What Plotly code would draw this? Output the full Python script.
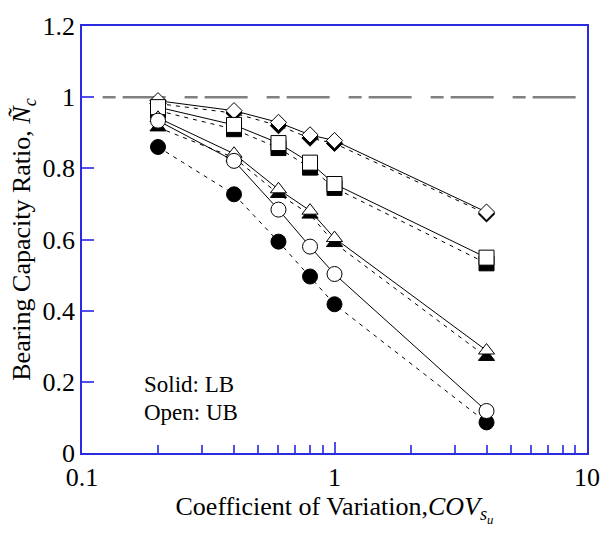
import plotly.graph_objects as go

# Coefficient of variation of undrained strength
cov = [0.2, 0.4, 0.6, 0.8, 1.0, 4.0]

# Correlation length labels
theta_labels = ["20", "8.0", "2.0", "0.2"]

# Upper bound (open symbols)
ub_20 = [0.99, 0.962, 0.929, 0.894, 0.878, 0.677]
ub_8 = [0.972, 0.922, 0.871, 0.816, 0.756, 0.549]
ub_2 = [0.942, 0.841, 0.741, 0.681, 0.604, 0.288]
ub_02 = [0.934, 0.821, 0.684, 0.580, 0.503, 0.118]

# Lower bound (solid symbols)
lb_20 = [0.982, 0.955, 0.920, 0.885, 0.870, 0.672]
lb_8 = [0.962, 0.910, 0.857, 0.802, 0.745, 0.533]
lb_2 = [0.915, 0.830, 0.728, 0.670, 0.590, 0.270]
lb_02 = [0.860, 0.727, 0.594, 0.496, 0.418, 0.086]

symbols = ["diamond", "square", "triangle-up", "circle"]
sizes = [12.5, 15, 14, 15]
ub_sets = [ub_20, ub_8, ub_2, ub_02]
lb_sets = [lb_20, lb_8, lb_2, lb_02]

SERIF = "Liberation Serif, Times New Roman, serif"
AXIS_BLUE = "#2a2ae0"
TICK_BLUE = "#5050e8"

fig = go.Figure()

# connecting lines first so that every symbol sits on top of them
for lb in lb_sets:
    fig.add_trace(go.Scatter(x=cov, y=lb, mode="lines",
                             line=dict(color="black", width=1, dash="4px,5px"),
                             showlegend=False, hoverinfo="skip"))
for ub in ub_sets:
    fig.add_trace(go.Scatter(x=cov, y=ub, mode="lines",
                             line=dict(color="black", width=1),
                             showlegend=False, hoverinfo="skip"))

# solid (LB) symbols, then open (UB) symbols
for lb, sym, sz in zip(lb_sets, symbols, sizes):
    fig.add_trace(go.Scatter(x=cov, y=lb, mode="markers",
                             marker=dict(symbol=sym, size=sz, color="black",
                                         line=dict(color="black", width=1)),
                             showlegend=False))
for ub, sym, sz in zip(ub_sets, symbols, sizes):
    fig.add_trace(go.Scatter(x=cov, y=ub, mode="markers",
                             marker=dict(symbol=sym, size=sz, color="white",
                                         line=dict(color="black", width=1)),
                             showlegend=False))

# reference line at a ratio of one
fig.add_shape(type="line", xref="x", yref="y", x0=0.1207, x1=10, y0=1, y1=1,
              line=dict(color="#808080", width=2.5, dash="13px,7px,43px,19px"),
              layer="below")

# curve labels next to the last point of each upper-bound curve
label_texts = [
    theta_labels[0] + "=Θ<sub> ln <i>s<sub>u</sub></i></sub>",
    theta_labels[1], theta_labels[2], theta_labels[3],
]
label_shift = [(9, -10), (16, -20), (16, -24), (16, -12)]
for ub, txt, (dx, dy) in zip(ub_sets, label_texts, label_shift):
    fig.add_annotation(x=cov[-1], y=ub[-1], xref="x", yref="y", text=txt,
                       showarrow=False, xanchor="left", yanchor="middle",
                       xshift=dx, yshift=dy,
                       font=dict(family=SERIF, size=24, color="black"))

fig.add_annotation(x=0.118, y=0.160, xref="paper", yref="paper",
                   text="Solid: LB", showarrow=False, xanchor="left",
                   yanchor="middle", font=dict(family=SERIF, size=23, color="black"))
fig.add_annotation(x=0.118, y=0.094, xref="paper", yref="paper",
                   text="Open: UB", showarrow=False, xanchor="left",
                   yanchor="middle", font=dict(family=SERIF, size=23, color="black"))

fig.update_xaxes(
    type="log", range=[-1, 1],
    tickvals=[0.1, 1, 10], ticktext=["0.1", "1", "10"],
    ticks="inside", ticklen=11, tickwidth=1.5, tickcolor=TICK_BLUE,
    minor=dict(ticks="inside", ticklen=8, tickwidth=1.5, tickcolor=TICK_BLUE,
               dtick="D1", showgrid=False),
    showline=True, linecolor=AXIS_BLUE, linewidth=1.5, mirror=True,
    showgrid=False, zeroline=False,
    tickfont=dict(family=SERIF, size=26, color="black"),
    title=dict(text="Coefficient of Variation,<i>COV</i><sub><i>s<sub>u</sub></i></sub>",
               font=dict(family=SERIF, size=26, color="black"), standoff=0),
)
fig.update_yaxes(
    range=[0, 1.2], tickvals=[0, 0.2, 0.4, 0.6, 0.8, 1.0, 1.2],
    ticktext=["0", "0.2", "0.4", "0.6", "0.8", "1", "1.2"],
    ticks="inside", ticklen=12, tickwidth=1.5, tickcolor=TICK_BLUE,
    showline=True, linecolor=AXIS_BLUE, linewidth=1.5, mirror=True,
    showgrid=False, zeroline=False,
    tickfont=dict(family=SERIF, size=26, color="black"),
    title=dict(text="Bearing Capacity Ratio, <i>Ñ</i><sub><i>c</i></sub>",
               font=dict(family=SERIF, size=26, color="black"), standoff=4),
)

fig.update_layout(
    width=612, height=533,
    margin=dict(l=82, r=15, t=16, b=80),
    plot_bgcolor="white", paper_bgcolor="white",
    showlegend=False,
)

fig.write_html("out.html")
